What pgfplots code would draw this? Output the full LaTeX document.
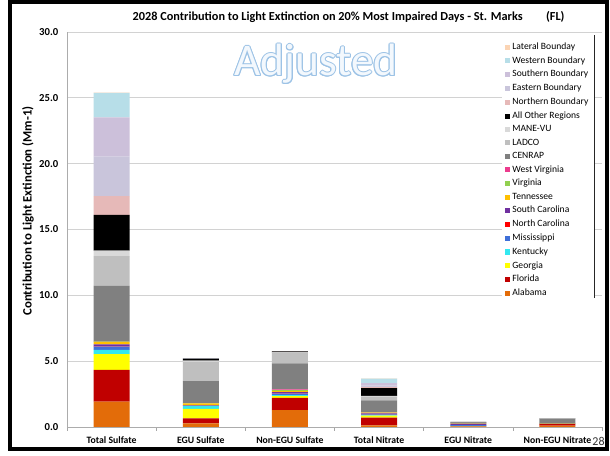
\documentclass[border=0pt]{standalone}
\usepackage{pgfplots}
\pgfplotsset{compat=1.18}
\usepackage{pgfplotstable}
\usepackage{fontspec}
\setmainfont{Carlito}
\definecolor{cAL}{HTML}{E36C09}
\definecolor{cFL}{HTML}{C00000}
\definecolor{cGA}{HTML}{FFFF00}
\definecolor{cKY}{HTML}{33E8F0}
\definecolor{cMS}{HTML}{3F6FD8}
\definecolor{cNC}{HTML}{FF0000}
\definecolor{cSC}{HTML}{7030A0}
\definecolor{cTN}{HTML}{FFC000}
\definecolor{cVA}{HTML}{92D050}
\definecolor{cWV}{HTML}{EC3B8D}
\definecolor{cCEN}{HTML}{808080}
\definecolor{cLAD}{HTML}{BFBFBF}
\definecolor{cMAN}{HTML}{D9D9D9}
\definecolor{cAO}{HTML}{000000}
\definecolor{cNB}{HTML}{E6B9B8}
\definecolor{cEB}{HTML}{C9C5DB}
\definecolor{cSB}{HTML}{CCC0DA}
\definecolor{cWB}{HTML}{B7DEE8}
\definecolor{cLB}{HTML}{FBD4B4}
\definecolor{wmblue}{HTML}{9DC3E6}
\definecolor{wmfill}{HTML}{F3F8FD}
\pgfplotstableread{
X AL FL GA KY MS NC SC TN VA WV CEN LAD MAN AO NB EB SB WB LB
0 1.92 2.41 1.21 0.31 0.25 0.03 0.15 0.18 0.02 0.01 4.22 2.27 0.41 2.73 1.42 3.00 2.98 1.86 0.02
1 0.28 0.38 0.71 0.23 0.03 0.01 0.03 0.13 0.00 0.00 1.69 1.45 0.10 0.15 0.01 0.01 0.01 0.02 0.00
2 1.29 0.93 0.13 0.08 0.10 0.02 0.10 0.10 0.05 0.06 1.97 0.80 0.04 0.08 0.01 0.00 0.00 0.01 0.00
3 0.12 0.60 0.15 0.03 0.05 0.03 0.05 0.07 0.02 0.01 0.90 0.25 0.08 0.60 0.06 0.12 0.20 0.34 0.02
4 0.02 0.02 0.03 0.01 0.06 0.01 0.08 0.02 0.00 0.00 0.10 0.01 0.00 0.02 0.00 0.00 0.00 0.00 0.00
5 0.10 0.13 0.02 0.01 0.01 0.01 0.01 0.01 0.00 0.00 0.30 0.05 0.00 0.03 0.00 0.00 0.00 0.00 0.00
}\datatable
\begin{document}
\begin{tikzpicture}
\useasboundingbox (0,0) rectangle (457.5pt,342pt);
\fill[white] (0,0) rectangle (457.5pt,342pt);
\begin{axis}[
  at={(50.25pt,21.75pt)}, anchor=south west,
  scale only axis, width=401.25pt, height=296.25pt,
  ybar stacked, bar width=27pt,
  legend image code/.code={\fill[#1] (0pt,-1.9pt) rectangle (3.8pt,1.9pt);},
  xmin=-0.5, xmax=5.5, ymin=0, ymax=30,
  xtick={-0.5,0.5,...,5.5},
  x tick label as interval,
  xticklabels={Total Sulfate, EGU Sulfate, Non-EGU Sulfate, Total Nitrate, EGU Nitrate, Non-EGU Nitrate},
  x tick label style={font=\bfseries\fontsize{7.3}{8}\selectfont, yshift=-1pt},
  xtick style={draw=gray!70, line width=0.5pt},
  tick align=outside, major tick length=3pt,
  ytick={0,5,...,30},
  ytick style={draw=none},
  yticklabel style={/pgf/number format/.cd, fixed, fixed zerofill, precision=1, /tikz/.cd, font=\bfseries\fontsize{8}{9}\selectfont},
  /pgf/number format/assume math mode=true,
  ymajorgrids, grid style={gray!35, line width=0.5pt},
  axis x line*=bottom, axis y line*=left,
  axis line style={-, draw=gray!65, line width=0.6pt},
  ylabel={Contribution to Light Extinction (Mm-1)},
  ylabel style={font=\bfseries\fontsize{9.6}{11}\selectfont, at={(axis description cs:-0.073,0.547)}, anchor=center},
  legend style={at={(0.985,0.987)}, anchor=north east, draw=none, fill=white, font=\fontsize{7.2}{8}\selectfont, row sep=-0.15pt, inner sep=2pt},
  legend cell align=left,
  reverse legend,
]
\addplot[fill=cAL, draw=none] table[x=X, y=AL] {\datatable};
\addplot[fill=cFL, draw=none] table[x=X, y=FL] {\datatable};
\addplot[fill=cGA, draw=none] table[x=X, y=GA] {\datatable};
\addplot[fill=cKY, draw=none] table[x=X, y=KY] {\datatable};
\addplot[fill=cMS, draw=none] table[x=X, y=MS] {\datatable};
\addplot[fill=cNC, draw=none] table[x=X, y=NC] {\datatable};
\addplot[fill=cSC, draw=none] table[x=X, y=SC] {\datatable};
\addplot[fill=cTN, draw=none] table[x=X, y=TN] {\datatable};
\addplot[fill=cVA, draw=none] table[x=X, y=VA] {\datatable};
\addplot[fill=cWV, draw=none] table[x=X, y=WV] {\datatable};
\addplot[fill=cCEN, draw=none] table[x=X, y=CEN] {\datatable};
\addplot[fill=cLAD, draw=none] table[x=X, y=LAD] {\datatable};
\addplot[fill=cMAN, draw=none] table[x=X, y=MAN] {\datatable};
\addplot[fill=cAO, draw=none] table[x=X, y=AO] {\datatable};
\addplot[fill=cNB, draw=none] table[x=X, y=NB] {\datatable};
\addplot[fill=cEB, draw=none] table[x=X, y=EB] {\datatable};
\addplot[fill=cSB, draw=none] table[x=X, y=SB] {\datatable};
\addplot[fill=cWB, draw=none] table[x=X, y=WB] {\datatable};
\addplot[fill=cLB, draw=none] table[x=X, y=LB] {\datatable};
\legend{Alabama, Florida, Georgia, Kentucky, Mississippi, North Carolina, South Carolina, Tennessee, Virginia, West Virginia, CENRAP, LADCO, MANE-VU, All Other Regions, Northern Boundary, Eastern Boundary, Southern Boundary, Western Boundary, Lateral Bounday}
\end{axis}
\draw[black!85, line width=0.6pt] (445.5pt,118.5pt) -- (445.5pt,315.75pt);
\node[anchor=west, font=\bfseries\fontsize{9.2}{11}\selectfont] at (96pt,329.25pt) {2028 Contribution to Light Extinction on 20\% Most Impaired Days - St. Marks\hspace{1.9em}(FL)};
\foreach \a in {0,30,...,330}
  \node[text=wmblue, font=\fontsize{34}{40}\selectfont, shift={(\a:0.7pt)}] at (237pt,294pt) {Adjusted};
\node[text=wmfill, font=\fontsize{34}{40}\selectfont] at (237pt,294pt) {Adjusted};
\node[font=\fontsize{9}{10}\selectfont, text=black!80] at (448.9pt,10.9pt) {28};
\draw[black, line width=3pt] (7.5pt,5.25pt) rectangle (455.25pt,340.5pt);
\end{tikzpicture}
\end{document}
